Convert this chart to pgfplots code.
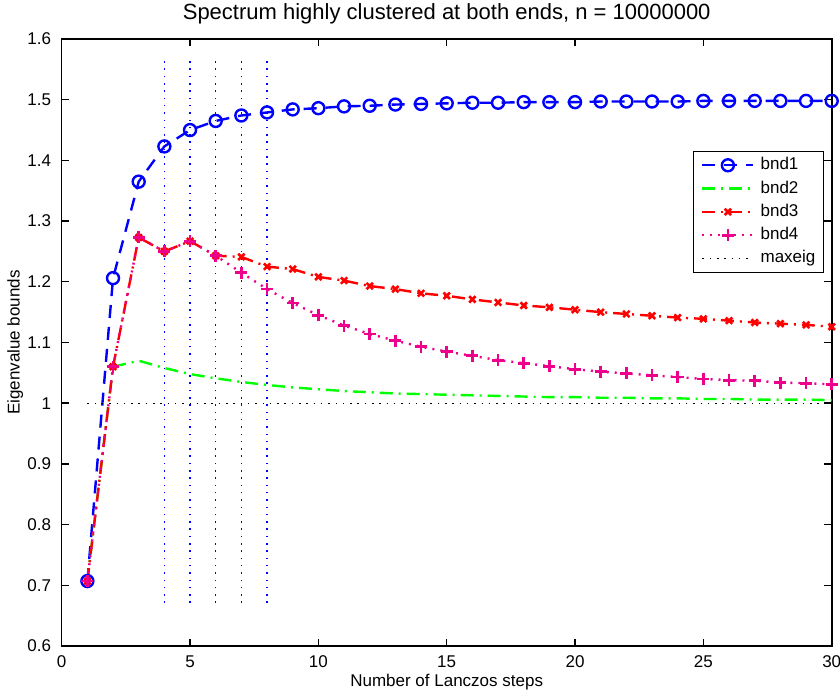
\documentclass[border=0pt]{standalone}
\usepackage{fontspec}
\setmainfont{Liberation Sans}
\usepackage{pgfplots}
\pgfplotsset{compat=1.18}
\usepackage{pgfplotstable}

\pgfplotstableread{
x bndA bndB bndC bndD
1 0.707 0.707 0.707 0.707
2 1.206 1.060 1.060 1.060
3 1.365 1.070 1.273 1.273
4 1.423 1.058 1.250 1.250
5 1.450 1.048 1.267 1.267
6 1.465 1.041 1.243 1.243
7 1.474 1.035 1.241 1.215
8 1.479 1.030 1.225 1.188
9 1.484 1.026 1.221 1.165
10 1.486 1.023 1.208 1.145
11 1.489 1.020 1.202 1.128
12 1.490 1.018 1.193 1.114
13 1.492 1.016 1.188 1.103
14 1.493 1.015 1.181 1.093
15 1.494 1.014 1.177 1.085
16 1.495 1.013 1.171 1.078
17 1.495 1.012 1.166 1.071
18 1.496 1.011 1.161 1.066
19 1.496 1.010 1.158 1.061
20 1.496 1.010 1.154 1.056
21 1.497 1.009 1.150 1.052
22 1.497 1.009 1.147 1.049
23 1.497 1.008 1.144 1.046
24 1.497 1.008 1.141 1.043
25 1.498 1.007 1.139 1.040
26 1.498 1.007 1.136 1.038
27 1.498 1.006 1.133 1.037
28 1.498 1.006 1.131 1.034
29 1.498 1.006 1.129 1.033
30 1.498 1.005 1.126 1.031
}\bounds

\begin{document}
\begin{tikzpicture}
\begin{axis}[
  name=ax,
  scale only axis,
  width=770pt, height=607pt,
  xmin=0, xmax=30, ymin=0.6, ymax=1.6,
  xtick={0,5,...,30},
  ytick={0.6,0.7,0.8,0.9,1.0,1.1,1.2,1.3,1.4,1.5,1.6},
  yticklabels={0.6,0.7,0.8,0.9,1,1.1,1.2,1.3,1.4,1.5,1.6},
  tick align=inside,
  tick pos=both,
  major tick length=7.5pt,
  axis line style={line width=1.6pt},
  every tick/.style={black, line width=1.4pt},
  /pgf/number format/assume math mode=true,
  tick label style={font=\fontsize{17}{20}\selectfont},
  xticklabel style={anchor=base, inner sep=0pt, yshift=-21pt},
  yticklabel style={anchor=east, inner sep=0pt, xshift=-10.5pt},
  xlabel={Number of Lanczos steps},
  ylabel={Eigenvalue bounds},
  title={Spectrum highly clustered at both ends, n = 10000000},
  xlabel style={at={(axis description cs:0.5,-0.067)}, anchor=base, inner sep=0pt, font=\fontsize{17}{20}\selectfont},
  ylabel style={at={(axis description cs:-0.0545,0.5)}, anchor=base, inner sep=0pt, font=\fontsize{17}{20}\selectfont},
  title style={at={(axis description cs:0.5,1.023)}, anchor=base, inner sep=0pt, font=\fontsize{22}{26}\selectfont},
  clip=false,
  legend cell align=left,
  legend image code/.code={\draw[mark repeat=2,mark phase=2,#1] plot coordinates {(0pt,0pt) (25.5pt,0pt) (51pt,0pt)};},
  legend style={at={(axis description cs:0.990,0.816)}, anchor=north east,
    draw=black, line width=1.2pt, fill=white,
    inner xsep=8pt, inner ysep=6pt,
    row sep=7.3pt, column sep=6pt,
    nodes={inner sep=0pt, text height=12.5pt, text depth=3.5pt},
    font=\fontsize{17}{20}\selectfont},
]
\addplot[blue, line width=2.4pt, dash pattern=on 13pt off 9pt, mark=o, mark size=6pt, mark options={solid}] table[x=x, y=bndA] {\bounds};
\addlegendentry{bnd1}
\addplot[green, line width=2.4pt, dash pattern=on 13pt off 6pt on 2pt off 6pt] table[x=x, y=bndB] {\bounds};
\addlegendentry{bnd2}
\addplot[red, line width=2.4pt, dash pattern=on 13pt off 6pt on 2pt off 6pt, mark=x, mark size=4.5pt, mark options={solid, line width=2.6pt}] table[x=x, y=bndC] {\bounds};
\addlegendentry{bnd3}
\addplot[magenta, line width=2.4pt, dash pattern=on 2pt off 6pt, mark=+, mark size=6pt, mark options={solid, line width=2.8pt}] table[x=x, y=bndD] {\bounds};
\addlegendentry{bnd4}
\addplot[black, line width=1.2pt, dash pattern=on 1.5pt off 5.8pt] coordinates {(1,1) (30,1)};
\addlegendentry{maxeig}
\addplot[blue, line width=1.2pt, dash pattern=on 1.5pt off 5.8pt, forget plot] coordinates {(4,0.671) (4,1.567)};
\addplot[blue, line width=1.2pt, dash pattern=on 1.5pt off 5.8pt, forget plot] coordinates {(5,0.671) (5,1.567)};
\addplot[blue, line width=1.2pt, dash pattern=on 1.5pt off 5.8pt, forget plot] coordinates {(6,0.671) (6,1.567)};
\addplot[blue, line width=1.2pt, dash pattern=on 1.5pt off 5.8pt, forget plot] coordinates {(7,0.671) (7,1.567)};
\addplot[blue, line width=1.2pt, dash pattern=on 1.5pt off 5.8pt, forget plot] coordinates {(8,0.671) (8,1.567)};
\end{axis}
\pgfresetboundingbox
\path ([shift={(-61.7pt,-45pt)}]ax.south west) rectangle ([shift={(8.3pt,39pt)}]ax.north east);
\end{tikzpicture}
\end{document}
